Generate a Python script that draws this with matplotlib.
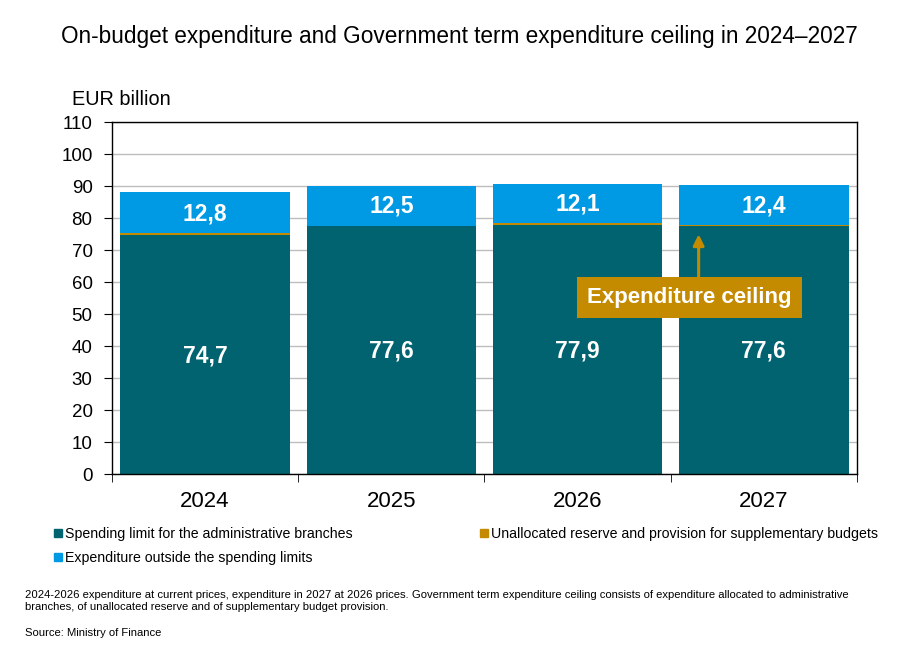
import numpy as np
import matplotlib.pyplot as plt
from matplotlib.lines import Line2D

plt.rcParams['font.family'] = ['Liberation Sans', 'DejaVu Sans']

years = ['2024', '2025', '2026', '2027']
spending_limit = [74.7, 77.6, 77.9, 77.6]
reserve = [0.5, 0.0, 0.5, 0.3]
outside_limits = [12.8, 12.5, 12.1, 12.4]
labels = ['Spending limit for the administrative branches',
          'Unallocated reserve and provision for supplementary budgets',
          'Expenditure outside the spending limits']

c_teal = '#00636F'
c_gold = '#C48A00'
c_blue = '#009AE4'

fig = plt.figure(figsize=(9.18, 6.57), dpi=100)
ax = fig.add_axes([0.122, 0.2785, 0.8115, 0.5358])

x = np.arange(len(years))
w = 0.91
bottom2 = np.array(spending_limit) + np.array(reserve)
ax.bar(x, spending_limit, w, color=c_teal, zorder=2)
ax.bar(x, reserve, w, bottom=spending_limit, color=c_gold, zorder=2)
ax.bar(x, outside_limits, w, bottom=bottom2, color=c_blue, zorder=2)

for i in range(len(years)):
    ax.text(x[i], spending_limit[i] / 2 - 0.5, f"{spending_limit[i]:.1f}".replace('.', ','),
            ha='center', va='center', color='white', fontsize=16.5, fontweight='bold')
    ax.text(x[i], bottom2[i] + outside_limits[i] / 2 - 0.2,
            f"{outside_limits[i]:.1f}".replace('.', ','),
            ha='center', va='center', color='white', fontsize=16.5, fontweight='bold')

# expenditure ceiling callout
ax.annotate('', xy=(2.65, 74.9), xytext=(2.65, 61.5),
            arrowprops=dict(arrowstyle='-|>', color=c_gold, lw=2.2,
                            mutation_scale=16, shrinkA=0, shrinkB=0), zorder=4)
ax.text(2.60, 55.3, 'Expenditure ceiling', ha='center', va='center',
        color='white', fontsize=16, fontweight='bold', zorder=5,
        bbox=dict(boxstyle='square,pad=0.45', fc=c_gold, ec='none'))

ax.set_xlim(-0.5, 3.5)
ax.set_ylim(0, 110)
ax.set_yticks(range(0, 111, 10))
ax.set_xticks(x)
ax.set_xticklabels(years, fontsize=16)
ax.set_xticks(np.arange(-0.5, 4, 1), minor=True)
ax.tick_params(axis='x', which='major', length=0, pad=12)
ax.tick_params(axis='x', which='minor', length=6, direction='out')
ax.tick_params(axis='y', labelsize=13.5, length=6, direction='out', pad=8)
ax.grid(axis='y', color='#BDBDBD', lw=1, zorder=0)
for s in ax.spines.values():
    s.set_color('black')
    s.set_linewidth(1)

fig.text(0.5, 0.945, 'On-budget expenditure and Government term expenditure ceiling in 2024\u20132027',
         ha='center', va='center', fontsize=16.3)
fig.text(0.078, 0.848, 'EUR billion', ha='left', va='center', fontsize=14.3)

handles = [Line2D([], [], marker='s', ls='', color=c_teal, markersize=6),
           Line2D([], [], marker='s', ls='', color=c_blue, markersize=6),
           Line2D([], [], marker='s', ls='', color=c_gold, markersize=6)]
fig.legend(handles, [labels[0], labels[2], labels[1]], ncol=2, frameon=False,
           loc='upper left', bbox_to_anchor=(0.052, 0.207), fontsize=10.2,
           handlelength=0.6, handletextpad=0.2, columnspacing=9.0,
           labelspacing=0.7, borderaxespad=0)

fig.text(0.027, 0.085,
         '2024-2026 expenditure at current prices, expenditure in 2027 at 2026 prices. '
         'Government term expenditure ceiling consists of expenditure allocated to administrative\n'
         'branches, of unallocated reserve and of supplementary budget provision.',
         ha='left', va='center', fontsize=8.1, linespacing=1.3)
fig.text(0.027, 0.036, 'Source: Ministry of Finance', ha='left', va='center', fontsize=8.1)

fig.savefig('out.png', dpi=100)
